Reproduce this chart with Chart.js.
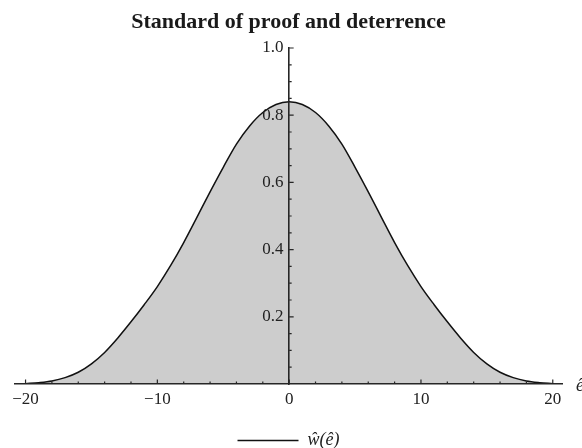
<!DOCTYPE html>
<html>
<head>
<meta charset="utf-8">
<script src="https://cdn.jsdelivr.net/npm/chart.js@4.4.1/dist/chart.umd.min.js"></script>
<style>
  body { margin: 0; background: #fff; }
</style>
</head>
<body>
<canvas id="proofChart" width="582" height="448"></canvas>
<script>
// values (e hat -> w hat)
const eHat = [-20, -19, -18, -17, -16, -15, -14, -13, -12, -11, -10, -9, -8, -7, -6, -5, -4, -3, -2, -1,
  0, 1, 2, 3, 4, 5, 6, 7, 8, 9, 10, 11, 12, 13, 14, 15, 16, 17, 18, 19, 20];
const wHat = [0.001, 0.004, 0.009, 0.019, 0.035, 0.060, 0.094, 0.137, 0.185, 0.236, 0.290, 0.352, 0.421,
  0.496, 0.572, 0.645, 0.714, 0.768, 0.808, 0.832, 0.840, 0.832, 0.808, 0.768, 0.714, 0.645, 0.572,
  0.496, 0.421, 0.352, 0.290, 0.236, 0.185, 0.137, 0.094, 0.060, 0.035, 0.019, 0.009, 0.004, 0.001];
const xTicks = [-20, -10, 0, 10, 20];
const yTicks = [0.2, 0.4, 0.6, 0.8, 1.0];

const serif = "'Liberation Serif', 'DejaVu Serif', serif";
const axisColor = "#262626";

// small Mathematica style tick marks pointing into the plot
const tickMarks = {
  id: "tickMarks",
  afterDraw(chart) {
    const { ctx, scales } = chart;
    const x = scales.x;
    const y = scales.y;
    const x0 = x.getPixelForValue(0);
    const y0 = y.getPixelForValue(0);
    ctx.save();
    ctx.strokeStyle = axisColor;
    ctx.lineWidth = 1.2;
    ctx.beginPath();
    for (let v = -20; v <= 20; v += 2) {
      const px = x.getPixelForValue(v);
      const len = v % 10 === 0 ? 4.5 : 2.5;
      ctx.moveTo(px, y0);
      ctx.lineTo(px, y0 - len);
    }
    for (let i = 1; i <= 20; i++) {
      const py = y.getPixelForValue(i * 0.05);
      const len = i % 4 === 0 ? 4.5 : 2.5;
      ctx.moveTo(x0, py);
      ctx.lineTo(x0 + len, py);
    }
    ctx.stroke();

    // axis name at the right end of the x axis
    ctx.fillStyle = "#222";
    ctx.font = "italic 18px " + serif;
    ctx.textBaseline = "middle";
    ctx.textAlign = "left";
    ctx.fillText("ê", x.right + 14, y0 + 2);
    ctx.restore();
  },
};

const ctx = document.getElementById("proofChart").getContext("2d");

new Chart(ctx, {
  type: "line",
  data: {
    datasets: [
      {
        label: "ŵ(ê)",
        data: eHat.map((e, i) => ({ x: e, y: wHat[i] })),
        borderColor: "#111",
        borderWidth: 1.5,
        backgroundColor: "#cdcdcd",
        fill: "origin",
        pointRadius: 0,
        cubicInterpolationMode: "monotone",
      },
    ],
  },
  options: {
    responsive: false,
    animation: false,
    layout: { padding: { left: 15, right: 20, top: 0, bottom: -11.5 } },
    scales: {
      x: {
        type: "linear",
        min: -20.8,
        max: 20.7,
        position: "bottom",
        afterBuildTicks: (scale) => {
          scale.ticks = xTicks.map((v) => ({ value: v }));
        },
        afterFit: (scale) => {
          scale.height = 43.5;
        },
        ticks: {
          z: 1,
          color: "#222",
          padding: 5,
          font: { family: serif, size: 17 },
          callback: (v) => String(v).replace("-", "\u2212"),
        },
        grid: { display: true, drawOnChartArea: false, drawTicks: false },
        border: { z: 1, color: axisColor, width: 1.6 },
      },
      y: {
        type: "linear",
        min: 0,
        max: 1,
        position: { x: 0 },
        afterBuildTicks: (scale) => {
          scale.ticks = yTicks.map((v) => ({ value: v }));
        },
        ticks: {
          z: 1,
          color: "#222",
          font: { family: serif, size: 17 },
          // a centred axis puts labels flush against the line, so keep a small gap
          callback: (v) => v.toFixed(1) + " \u200A",
        },
        grid: { display: true, drawOnChartArea: false, drawTicks: false },
        border: { z: 1, color: axisColor, width: 1.6 },
      },
    },
    plugins: {
      title: {
        display: true,
        text: "Standard of proof and deterrence",
        color: "#1a1a1a",
        font: { family: serif, size: 22, weight: "bold" },
        padding: { top: 9, bottom: 12.6 },
      },
      legend: {
        display: true,
        position: "bottom",
        labels: {
          usePointStyle: true,
          pointStyle: "line",
          pointStyleWidth: 61,
          padding: 4,
          color: "#222",
          font: { family: serif, size: 18, style: "italic" },
        },
      },
      tooltip: { enabled: false },
    },
  },
  plugins: [tickMarks],
});
</script>
</body>
</html>
